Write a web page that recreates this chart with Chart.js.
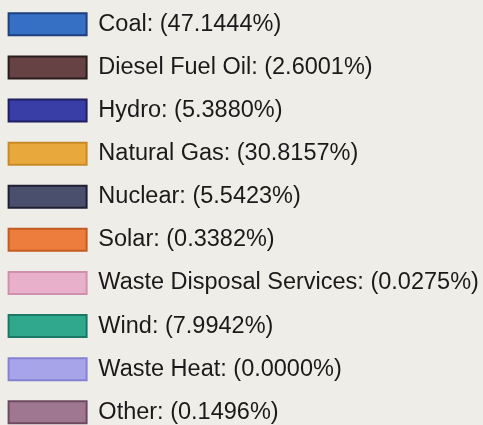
<!DOCTYPE html>
<html>
<head>
<meta charset="utf-8">
<script src="https://cdn.jsdelivr.net/npm/chart.js@4/dist/chart.umd.min.js"></script>
<style>
    html, body { margin: 0; padding: 0; width: 483px; height: 425px; overflow: hidden; background: #eeede8; }
    #wrap { position: absolute; left: -11px; top: -7px; width: 1100px; height: 470px; }
</style>
</head>
<body>
<div id="wrap"><canvas id="mixChart" width="1100" height="470"></canvas></div>
<script>
const sources = ["Coal", "Diesel Fuel Oil", "Hydro", "Natural Gas", "Nuclear", "Solar",
    "Waste Disposal Services", "Wind", "Waste Heat", "Other"];
const shares = [47.1444, 2.6001, 5.3880, 30.8157, 5.5423, 0.3382, 0.0275, 7.9942, 0.0000, 0.1496];
const fills = ["#3570c4", "#674244", "#393ea6", "#e8a83c", "#4b4f6e", "#ec7d3c", "#e9b0cb", "#30a88e", "#a7a4ea", "#9f7790"];
const edges = ["#1f3f7e", "#2a1b1c", "#1f2060", "#c88a24", "#1e2032", "#c25c22", "#cf90ae", "#1a7864", "#8582d2", "#6e4a5f"];

const INK = "#1a1a1a";

new Chart(document.getElementById("mixChart"), {
    type: "pie",
    data: {
        labels: sources.map((name, i) => `${name}: (${shares[i].toFixed(4)}%)`),
        datasets: [{
            data: shares,
            backgroundColor: fills,
            borderColor: edges,
            borderWidth: 2,
        }],
    },
    options: {
        responsive: false,
        animation: false,
        plugins: {
            tooltip: { enabled: false },
            legend: {
                position: "left",
                align: "start",
                labels: {
                    boxWidth: 78,
                    boxHeight: 22,
                    padding: 19.6,
                    color: INK,
                    font: { family: "'Liberation Sans', Arial, sans-serif", size: 23.5 },
                },
            },
        },
    },
});
</script>
</body>
</html>
